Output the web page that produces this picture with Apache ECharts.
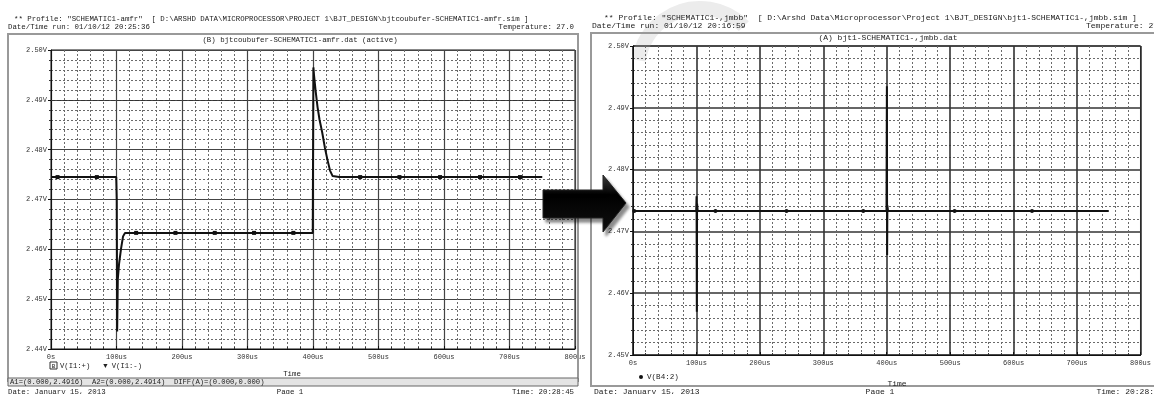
<!DOCTYPE html>
<html>
<head>
<meta charset="utf-8">
<script src="https://cdn.jsdelivr.net/npm/echarts/dist/echarts.min.js"></script>
<style>
  html, body { margin: 0; padding: 0; background: #fff; }
  #chart { width: 1154px; height: 394px; }
</style>
</head>
<body>
<div id="chart"></div>
<script>
// left plot: bjtcoubufer amfr, time in us, voltage in V
const leftTime = [0, 10, 70, 99.6, 100.4, 101, 102, 104, 107, 110, 113, 130, 190, 250, 310, 370, 399.6,
  400.6, 401.5, 404, 407, 410, 414, 418, 422, 426, 430, 440, 472, 532, 594, 655, 716, 750]
const leftVolt = [2.4745, 2.4745, 2.4745, 2.4745, 2.4700, 2.4435, 2.4540, 2.4572, 2.4602, 2.4626, 2.4633, 2.4633, 2.4633, 2.4633, 2.4633, 2.4633, 2.4633,
  2.4965, 2.4950, 2.4918, 2.4885, 2.4860, 2.4835, 2.4805, 2.4780, 2.4758, 2.4747, 2.4745, 2.4745, 2.4745, 2.4745, 2.4745, 2.4745, 2.4745]
const leftMarkers = [10, 70, 130, 190, 250, 310, 370, 472, 532, 594, 655, 716]
const leftCursor = [2.4916]

// right plot: bjt1 jmbb
const rightTime = [2, 60, 99.6, 100.2, 100.6, 101, 102, 130, 242, 300, 363, 399.6, 400.2, 400.6, 401, 402, 430, 507, 570, 629, 690, 750]
const rightVolt = [2.4733, 2.4733, 2.4733, 2.4757, 2.4570, 2.4745, 2.4733, 2.4733, 2.4733, 2.4733, 2.4733, 2.4733, 2.4935, 2.4662, 2.4742, 2.4733, 2.4733, 2.4733, 2.4733, 2.4733, 2.4733, 2.4733]
const rightMarkers = [2, 130, 242, 363, 507, 629]

const leftRange = [2.44, 2.50]
const rightRange = [2.45, 2.50]
const timeRange = [0, 800]

const mono = 'Liberation Mono'

function pairs(xs, ys) { return xs.map((x, i) => [x, ys[i]]) }

function timeLabel(v) { return v === 0 ? '0s' : v + 'us' }

function xAxisFor(gridIndex) {
  return {
    type: 'value', gridIndex, min: timeRange[0], max: timeRange[1], interval: 100,
    axisLine: { show: true, lineStyle: { color: '#111', width: 1 } },
    axisTick: { show: true, inside: true, length: 3, lineStyle: { color: '#111' } },
    minorTick: { show: true, splitNumber: 5, length: 2, lineStyle: { color: '#333' } },
    axisLabel: { formatter: timeLabel, fontFamily: mono, fontSize: 7, color: '#333', margin: 5 },
    splitLine: { show: true, lineStyle: { color: gridIndex ? '#333' : '#444', width: gridIndex ? 1.6 : 1.2 } },
    minorSplitLine: { show: true, lineStyle: { color: '#6a6a6a', type: [2, 2], width: 1 } }
  }
}

function yAxisFor(gridIndex, range) {
  return {
    type: 'value', gridIndex, min: range[0], max: range[1], interval: 0.01,
    axisLine: { show: true, lineStyle: { color: '#111', width: 1 } },
    axisTick: { show: true, inside: false, length: 3, lineStyle: { color: '#111' } },
    minorTick: { show: true, splitNumber: 5, length: 2, lineStyle: { color: '#333' } },
    axisLabel: { formatter: v => v.toFixed(2) + 'V', fontFamily: mono, fontSize: 7, color: '#333', margin: 4 },
    splitLine: { show: true, lineStyle: { color: gridIndex ? '#333' : '#444', width: gridIndex ? 1.6 : 1.2 } },
    minorSplitLine: { show: true, lineStyle: { color: '#6a6a6a', type: [2, 2], width: 1 } }
  }
}

function txt(text, x, y, size, align) {
  return {
    type: 'text', z: 50,
    style: { text, x, y, font: size + 'px "' + mono + '"', fill: '#222', textAlign: align || 'left', textVerticalAlign: 'middle' }
  }
}

const chart = echarts.init(document.getElementById('chart'), null, { renderer: 'canvas' })

chart.setOption({
  animation: false,
  backgroundColor: '#fff',
  grid: [
    { left: 51, top: 50, width: 524, height: 299, show: true, borderColor: '#111', borderWidth: 1, backgroundColor: '#fff' },
    { left: 633, top: 46, width: 528, height: 309, show: true, borderColor: '#111', borderWidth: 1, backgroundColor: '#fff' }
  ],
  xAxis: [xAxisFor(0), xAxisFor(1)],
  yAxis: [yAxisFor(0, leftRange), yAxisFor(1, rightRange)],
  series: [
    {
      type: 'line', xAxisIndex: 0, yAxisIndex: 0,
      data: pairs(leftTime, leftVolt),
      showAllSymbol: true, symbol: 'rect',
      symbolSize: v => leftMarkers.includes(v[0]) ? 4 : 0,
      itemStyle: { color: '#111' },
      lineStyle: { color: '#111', width: 2 },
      markLine: {
        silent: true, symbol: 'none', label: { show: false },
        lineStyle: { color: '#333', type: [4, 2], width: 1 },
        data: leftCursor.map(v => ({ yAxis: v }))
      }
    },
    {
      type: 'line', xAxisIndex: 1, yAxisIndex: 1,
      data: pairs(rightTime, rightVolt),
      showAllSymbol: true, symbol: 'circle',
      symbolSize: v => rightMarkers.includes(v[0]) ? 4 : 0,
      itemStyle: { color: '#111' },
      lineStyle: { color: '#111', width: 2 }
    }
  ],
  graphic: [
    // watermark
    { type: 'arc', z: 0, shape: { cx: 700, cy: 70, r: 62, startAngle: Math.PI * 1.05, endAngle: Math.PI * 1.75 },
      style: { stroke: '#ececec', lineWidth: 14, fill: 'none' } },
    // left panel
    { type: 'rect', z: 40, shape: { x: 8, y: 34, width: 570, height: 347 }, style: { fill: 'none', stroke: '#999', lineWidth: 2 } },
    txt('** Profile: "SCHEMATIC1-amfr"  [ D:\\ARSHD DATA\\MICROPROCESSOR\\PROJECT 1\\BJT_DESIGN\\bjtcoubufer-SCHEMATIC1-amfr.sim ]', 14, 19, 7.4),
    txt('Date/Time run: 01/10/12 20:25:36', 8, 27, 7.4),
    txt('Temperature: 27.0', 574, 27, 7.4, 'right'),
    txt('(B) bjtcoubufer-SCHEMATIC1-amfr.dat (active)', 300, 40, 7.4, 'center'),
    { type: 'rect', z: 45, shape: { x: 50, y: 362, width: 7, height: 7 }, style: { fill: 'none', stroke: '#333', lineWidth: 1 } },
    txt('B', 53.5, 366, 6, 'center'),
    txt('V(I1:+)   \u25BC V(I1:-)', 60, 366, 7.2),
    txt('Time', 292, 374, 7.4, 'center'),
    { type: 'rect', z: 45, shape: { x: 8, y: 378, width: 570, height: 8 }, style: { fill: '#e4e4e4', stroke: '#666', lineWidth: 1 } },
    txt('A1=(0.000,2.4916)  A2=(0.000,2.4914)  DIFF(A)=(0.000,0.000)', 10, 382, 7.2),
    txt('Date: January 15, 2013', 8, 392, 7.4),
    txt('Page 1', 290, 392, 7.4, 'center'),
    txt('Time: 20:28:45', 574, 392, 7.4, 'right'),
    // right panel
    { type: 'rect', z: 40, shape: { x: 591, y: 33, width: 600, height: 353 }, style: { fill: 'none', stroke: '#999', lineWidth: 2 } },
    txt('** Profile: "SCHEMATIC1-,jmbb"  [ D:\\Arshd Data\\Microprocessor\\Project 1\\BJT_DESIGN\\bjt1-SCHEMATIC1-,jmbb.sim ]', 604, 18, 8),
    txt('Date/Time run: 01/10/12 20:16:59', 592, 26, 8),
    txt('Temperature: 27', 1158, 26, 8, 'right'),
    txt('(A) bjt1-SCHEMATIC1-,jmbb.dat', 888, 38, 8, 'center'),
    { type: 'circle', z: 45, shape: { cx: 641, cy: 377, r: 2 }, style: { fill: '#111' } },
    txt('V(B4:2)', 647, 377, 7.6),
    txt('Time', 897, 384, 8, 'center'),
    txt('Date: January 15, 2013', 594, 392, 8),
    txt('Page 1', 880, 392, 8, 'center'),
    txt('Time: 20:28:', 1154, 392, 8, 'right'),
    // arrow between the two plots
    { type: 'polygon', z: 60,
      shape: { points: [[543, 190], [603, 190], [603, 175], [626, 203], [603, 232], [603, 218], [543, 218]] },
      style: {
        fill: new echarts.graphic.LinearGradient(0, 0, 0, 1, [
          { offset: 0, color: '#444' }, { offset: 0.35, color: '#000' }, { offset: 1, color: '#111' }
        ]),
        stroke: '#222', lineWidth: 1,
        shadowColor: 'rgba(0,0,0,0.45)', shadowBlur: 3, shadowOffsetX: 3, shadowOffsetY: 4
      } }
  ]
})
</script>
</body>
</html>
